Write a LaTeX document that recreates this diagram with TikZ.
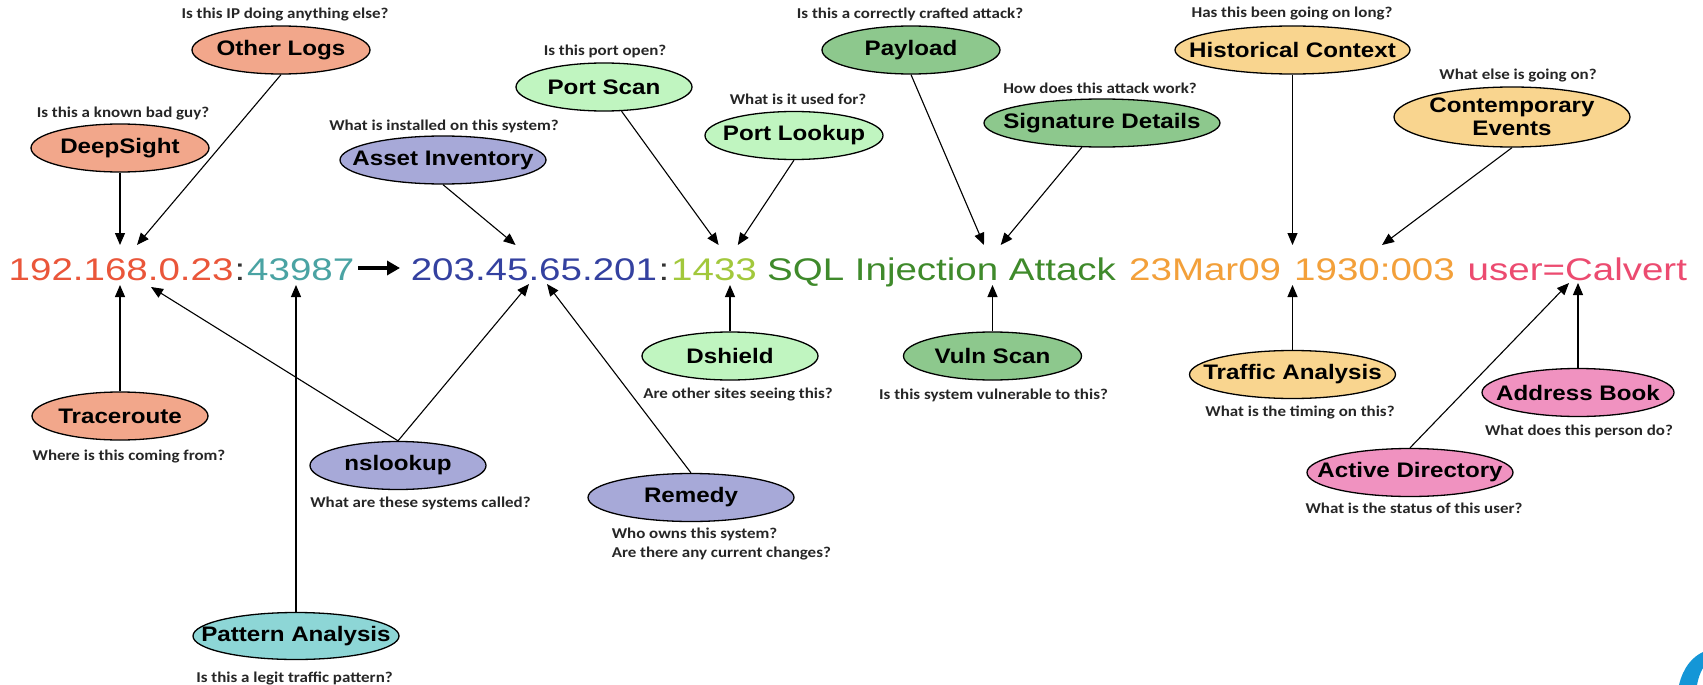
\documentclass[tikz,border=0pt]{standalone}
\usepackage{fontspec}
\setmainfont{Liberation Sans}
\newfontfamily\mainline[FakeStretch=1.23]{Liberation Sans}
\newfontfamily\labelfont[FakeStretch=1.15]{Liberation Sans}
\newfontfamily\askfont[FakeStretch=1.13]{Carlito}
\usetikzlibrary{shapes.geometric,arrows.meta}

% fills of the tool ellipses
\definecolor{salmonfill}{RGB}{242,167,139}
\definecolor{lavenderfill}{RGB}{167,169,216}
\definecolor{mintfill}{RGB}{192,245,192}
\definecolor{greenfill}{RGB}{141,200,141}
\definecolor{sandfill}{RGB}{249,213,143}
\definecolor{pinkfill}{RGB}{240,146,192}
\definecolor{tealfill}{RGB}{141,214,214}
% colours of the log line
\definecolor{srcipcol}{RGB}{234,86,58}
\definecolor{srcportcol}{RGB}{74,163,163}
\definecolor{dstipcol}{RGB}{52,65,160}
\definecolor{dstportcol}{RGB}{162,200,60}
\definecolor{attackcol}{RGB}{63,138,43}
\definecolor{timecol}{RGB}{243,160,58}
\definecolor{usercol}{RGB}{236,75,112}
\definecolor{sepgray}{RGB}{51,51,51}
\definecolor{logoblue}{RGB}{20,150,215}

\tikzset{
  toolshape/.style={ellipse, draw=black, line width=1.3pt, inner sep=0pt},
  tooltext/.style={font=\labelfont\bfseries\fontsize{21}{23}\selectfont, align=center, inner sep=0pt},
  ask/.style={font=\askfont\bfseries\fontsize{15}{19}\selectfont, text=black!85, inner sep=0pt},
  seg/.style={font=\mainline\fontsize{31.3}{34}\selectfont, anchor=base west, inner sep=0pt},
  link/.style={line width=1.1pt, -{Triangle[length=12pt,width=10pt]}},
  flow/.style={line width=3.6pt, -{Triangle[length=13pt,width=14pt]}},
}

% \toolnode{name}{fill}{x,y}{width}{height}{label}
\newcommand\toolnode[6]{%
  \node[toolshape, fill=#2, minimum width=#4, minimum height=#5] (#1) at (#3) {};
  \node[tooltext] (#1-text) at (#1) {#6};}

\begin{document}
\begin{tikzpicture}[x=1pt,y=-1pt]
\fill[white] (0,0) rectangle (1703,685);
\useasboundingbox (0,0) rectangle (1703,685);

% ---- the log line ----
\node[seg, text=srcipcol]   (srcip)   at (8.5,280.7)   {192.168.0.23};
\node[seg, text=sepgray]    (colonA)  at (234.5,280.7) {:};
\node[seg, text=srcportcol] (srcport) at (247,280.7)   {43987};
\node[seg, text=dstipcol]   (dstip)   at (410.6,280.7) {203.45.65.201};
\node[seg, text=sepgray]    (colonB)  at (658.5,280.7) {:};
\node[seg, text=dstportcol] (dstport) at (671,280.7)   {1433};
\node[seg, text=attackcol]  (attack)  at (767,280.7)   {SQL Injection Attack};
\node[seg, text=timecol]    (date)    at (1129,280.7)  {23Mar09};
\node[seg, text=timecol]    (clock)   at (1294,280.7)  {1930:003};
\node[seg, text=usercol]    (user)    at (1467.5,280.7) {user=Calvert};

\coordinate (flowFrom) at (358,268);
\coordinate (flowTo) at (400,268);
\draw[flow] (flowFrom) -- (flowTo);

% ---- tools above the line ----
\toolnode{deepsight}{salmonfill}{120,148}{178pt}{48pt}{DeepSight}
\node[ask] (deepsight-q) at (123,114) {Is this a known bad guy?};
\toolnode{otherlogs}{salmonfill}{281,50}{178pt}{48pt}{Other Logs}
\node[ask] (otherlogs-q) at (285,15) {Is this IP doing anything else?};
\toolnode{asset}{lavenderfill}{443,160}{206pt}{48pt}{Asset Inventory}
\node[ask] (asset-q) at (444,126) {What is installed on this system?};
\toolnode{portscan}{mintfill}{604,87}{176pt}{48pt}{Port Scan}
\node[ask] (portscan-q) at (605,51) {Is this port open?};
\toolnode{portlookup}{mintfill}{794,135.5}{178pt}{48pt}{Port Lookup}
\node[ask] (portlookup-q) at (798,99) {What is it used for?};
\toolnode{payload}{greenfill}{911,50}{178pt}{48pt}{Payload}
\node[ask] (payload-q) at (910,14) {Is this a correctly crafted attack?};
\toolnode{signature}{greenfill}{1102,123}{236pt}{48pt}{Signature Details}
\node[ask] (signature-q) at (1100,88) {How does this attack work?};
\toolnode{history}{sandfill}{1292.5,50}{235pt}{48pt}{Historical Context}
\node[ask] (history-q) at (1292,14) {Has this been going on long?};
\toolnode{contemp}{sandfill}{1512,117}{236pt}{60pt}{Contemporary\\Events}
\node[ask] (contemp-q) at (1518,76) {What else is going on?};

% ---- tools below the line ----
\toolnode{traceroute}{salmonfill}{120,416}{176pt}{48pt}{Traceroute}
\node[ask] (traceroute-q) at (129,457) {Where is this coming from?};
\toolnode{nslookup}{lavenderfill}{398,465.5}{176pt}{48pt}{nslookup}
\node[ask] (nslookup-q) at (420.5,503) {What are these systems called?};
\toolnode{pattern}{tealfill}{296,636}{206pt}{47pt}{Pattern Analysis}
\node[ask] (pattern-q) at (294.5,678) {Is this a legit traffic pattern?};
\toolnode{dshield}{mintfill}{730,356}{176pt}{48pt}{Dshield}
\node[ask] (dshield-q) at (738,395) {Are other sites seeing this?};
\toolnode{remedy}{lavenderfill}{691,497.5}{206pt}{48pt}{Remedy}
\node[ask, anchor=west, align=left] (remedy-q) at (611.6,544.5) {Who owns this system?\\Are there any current changes?};
\toolnode{vulnscan}{greenfill}{992.5,356}{178pt}{48pt}{Vuln Scan}
\node[ask] (vulnscan-q) at (993.5,395) {Is this system vulnerable to this?};
\toolnode{traffic}{sandfill}{1292.5,374.5}{206pt}{48pt}{Traffic Analysis}
\node[ask] (traffic-q) at (1300,412) {What is the timing on this?};
\toolnode{addressbook}{pinkfill}{1578,392.5}{192pt}{48pt}{Address Book}
\node[ask] (addressbook-q) at (1579,431) {What does this person do?};
\toolnode{activedir}{pinkfill}{1410,472.5}{206pt}{48pt}{Active Directory}
\node[ask] (activedir-q) at (1414,508) {What is the status of this user?};

% ---- arrow targets on the log line ----
\coordinate (tDeep)    at (120,245);
\coordinate (tOther)   at (137,245);
\coordinate (tAsset)   at (515.6,245);
\coordinate (tScan)    at (718.6,245);
\coordinate (tLookup)  at (737.8,245);
\coordinate (tPayload) at (984,245);
\coordinate (tSig)     at (1000.7,245);
\coordinate (tHist)    at (1292.5,245);
\coordinate (tContemp) at (1382,245);
\coordinate (tTrace)   at (120,285);
\coordinate (tNsA)     at (151,287);
\coordinate (tPattern) at (296,285);
\coordinate (tNsB)     at (529,284);
\coordinate (tRemedy)  at (547,284);
\coordinate (tDshield) at (730,285);
\coordinate (tVuln)    at (992.5,285);
\coordinate (tTraffic) at (1292.5,285);
\coordinate (tActive)  at (1569,283);
\coordinate (tAddress) at (1578,283);

% ---- connectors ----
\draw[link] (deepsight.south) -- (tDeep);
\draw[link] (otherlogs.south) -- (tOther);
\draw[link] (asset.south) -- (tAsset);
\draw[link] (portscan) -- (tScan);
\draw[link] (portlookup.south) -- (tLookup);
\draw[link] (payload.south) -- (tPayload);
\draw[link] (signature) -- (tSig);
\draw[link] (history.south) -- (tHist);
\draw[link] (contemp.south) -- (tContemp);
\draw[link] (traceroute.north) -- (tTrace);
\draw[link] (nslookup.north) -- (tNsA);
\draw[link] (nslookup.north) -- (tNsB);
\draw[link] (pattern.north) -- (tPattern);
\draw[link] (remedy.north) -- (tRemedy);
\draw[link] (dshield.north) -- (tDshield);
\draw[link] (vulnscan.north) -- (tVuln);
\draw[link] (traffic.north) -- (tTraffic);
\draw[link] (activedir.north) -- (tActive);
\draw[link] (addressbook.north) -- (tAddress);

% ---- corner of the blue logo ----
\fill[logoblue] (1679,685) .. controls (1683,668) and (1692,657) .. (1703,652)
  -- (1703,668) .. controls (1700,673) and (1698,679) .. (1697,685) -- cycle;
\end{tikzpicture}
\end{document}
